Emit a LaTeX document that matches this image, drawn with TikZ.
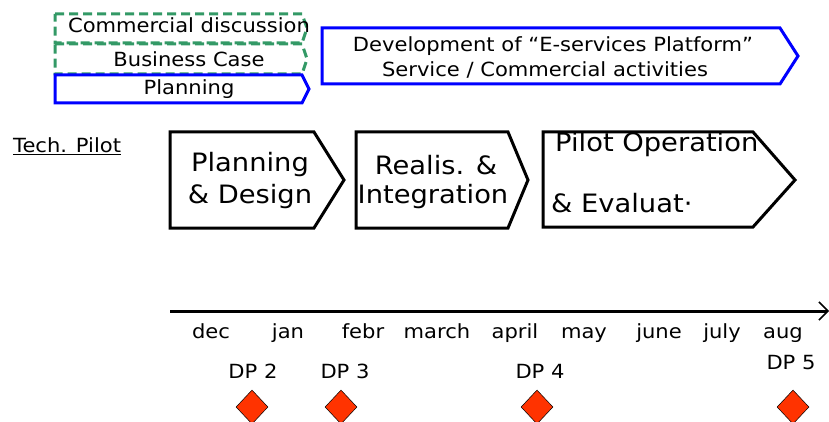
\documentclass[tikz,border=0pt]{standalone}
\usepackage{fontspec}
\setmainfont[FakeStretch=1.08]{DejaVu Sans}
\usetikzlibrary{arrows.meta,shapes.geometric}
\definecolor{dgreen}{HTML}{339966}
\definecolor{dpred}{HTML}{FF3300}
\begin{document}
\begin{tikzpicture}[x=1pt,y=-1pt,
  small/.style={font=\fontsize{19.5}{23}\selectfont, inner sep=0pt},
  big/.style={font=\fontsize{25.3}{31}\selectfont, inner sep=0pt},
  greenbox/.style={draw=dgreen, line width=3pt, dash pattern=on 9pt off 5pt},
  bluebox/.style={draw=blue, line width=3pt, fill=white},
  blackbox/.style={draw=black, line width=3pt, line join=miter},
  dpmark/.style={diamond, draw=black, line width=0.5pt, fill=dpred, minimum width=32pt, minimum height=34pt, inner sep=0pt},
  month/.style={small, anchor=base}]
\useasboundingbox (0,0) rectangle (829,422);
% top left boxes
\draw[greenbox] (55,44) -- (302,44) -- (307,59) -- (302,74) -- (55,74) -- cycle;
\draw[greenbox] (55,14) -- (302,14) -- (307,28) -- (302,43) -- (55,43) -- cycle;
\draw[bluebox] (55,75) -- (302,75) -- (309,89) -- (302,103) -- (55,103) -- cycle;
\node[small] (cd) at (189,25) {Commercial discussion};
\node[small] (bc) at (189,59) {Business Case};
\node[small] (pl) at (189,89) {Planning};
% development
\draw[bluebox] (322,28) -- (780,28) -- (798,56) -- (780,84) -- (322,84) -- cycle;
\node[small] (dev1) at (553,46) {Development of “E-services Platform”};
\node[small] (dev2) at (545,70) {Service / Commercial activities};
% tech pilot
\node[small, anchor=west] (tp) at (13,146) {\underline{Tech. Pilot}};
% phases
\draw[blackbox] (170,132) -- (314,132) -- (344,180) -- (314,228) -- (170,228) -- cycle;
\node[big] (pd1) at (250,165) {Planning};
\node[big] (pd2) at (250,197) {\& Design};
\draw[blackbox] (356,132) -- (508,132) -- (528,180) -- (508,228) -- (356,228) -- cycle;
\node[big] (ri1) at (436,165) {Realis. \&};
\node[big] (ri2) at (433,197) {Integration};
\draw[blackbox] (543,132) -- (753,132) -- (795,180) -- (753,227) -- (543,227) -- cycle;
\node[big, anchor=west] (po1) at (555,145) {Pilot Operation};
\node[big, anchor=west] (po2) at (551,203) {\& Evaluat·};
% timeline
\coordinate (t0) at (170,311);
\coordinate (t1) at (829,311);
\draw[line width=3pt, -{Straight Barb[length=9pt,width=18pt,line width=1.5pt]}] (t0) -- (t1);
\node[month] (m1) at (211,338) {dec};
\node[month] (m2) at (288,338) {jan};
\node[month] (m3) at (363,338) {febr};
\node[month] (m4) at (437,338) {march};
\node[month] (m5) at (515,338) {april};
\node[month] (m6) at (584,338) {may};
\node[month] (m7) at (659,338) {june};
\node[month] (m8) at (722,338) {july};
\node[month] (m9) at (783,338) {aug};
% decision points
\node[small] (dp2) at (253,371) {DP 2};
\node[small] (dp3) at (345,371) {DP 3};
\node[small] (dp4) at (540,371) {DP 4};
\node[small] (dp5) at (791,363) {DP 5};
\node[dpmark] (d2) at (252,407) {};
\node[dpmark] (d3) at (341,407) {};
\node[dpmark] (d4) at (537,407) {};
\node[dpmark] (d5) at (793,407) {};
\end{tikzpicture}
\end{document}
